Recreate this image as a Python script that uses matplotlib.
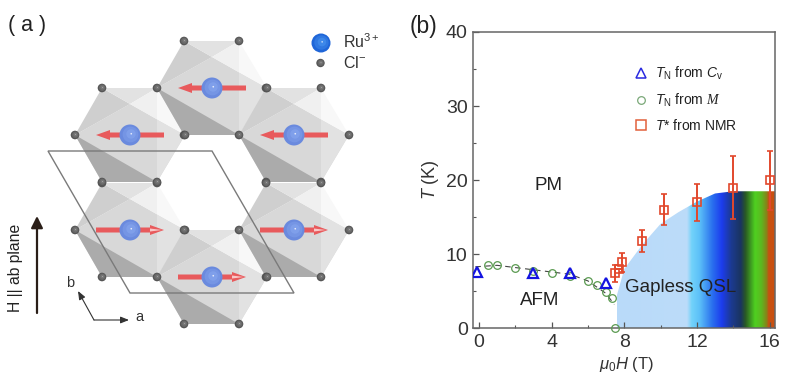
import numpy as np
import matplotlib
matplotlib.use("Agg")
import matplotlib.pyplot as plt
from matplotlib.patches import Polygon, Circle, FancyArrow, PathPatch
from matplotlib.path import Path
from matplotlib.colors import LinearSegmentedColormap
from matplotlib.lines import Line2D
from matplotlib.ticker import MultipleLocator

plt.rcParams['font.family'] = ['Liberation Sans', 'DejaVu Sans']
plt.rcParams['mathtext.fontset'] = 'custom'
plt.rcParams['mathtext.rm'] = 'Liberation Sans'
plt.rcParams['mathtext.it'] = 'Liberation Sans:italic'
plt.rcParams['mathtext.cal'] = 'Liberation Serif:italic'

# Panel (b) data
cv_field = [-0.1, 3.0, 5.0, 7.0]
cv_temp = [7.6, 7.4, 7.4, 6.1]
m_field = [0.5, 1.0, 2.0, 3.0, 4.0, 5.0, 6.0, 6.5, 7.0, 7.3, 7.5]
m_temp = [8.6, 8.6, 8.1, 7.7, 7.5, 7.0, 6.4, 5.8, 4.9, 4.1, 0.0]
guide_field = [-0.2, 1.0, 3.0, 5.0, 6.0, 7.0, 7.45]
guide_temp = [8.3, 8.5, 7.9, 7.3, 6.4, 4.7, 3.2]
nmr_field = [7.5, 7.7, 7.9, 9.0, 10.2, 12.0, 14.0, 16.0]
nmr_temp = [7.4, 8.0, 8.9, 11.8, 16.0, 17.0, 19.0, 20.0]
nmr_err = [1.2, 0.0, 1.3, 1.5, 2.1, 2.5, 4.2, 4.0]
qsl_field = [7.6, 7.6, 8.0, 9.0, 10.0, 11.0, 12.0, 13.0, 14.0, 16.3, 16.3]
qsl_temp = [0.0, 4.5, 8.0, 11.3, 14.1, 15.7, 17.1, 18.2, 18.5, 18.5, 0.0]

# Panel (a) schematic
ru_x = [130, 212, 294, 130, 212, 294]
ru_y = [135, 88, 135, 230, 277, 230]
spin = [-1, -1, -1, 1, 1, 1]
cell_x = [48, 212, 294, 130]
cell_y = [151, 151, 293, 293]

fig = plt.figure(figsize=(8, 3.85), dpi=100)
W, H = 800, 385

# ---------- panel (a) ----------
a = fig.add_axes([0, 0, 0.5, 1])
a.set_xlim(0, 400)
a.set_ylim(385, 0)
a.axis('off')

V = dict(TL=(-28, -47), TR=(27, -47), R=(55, 0), BR=(27, 47), BL=(-28, 47), L=(-55, 0), M=(0, -31),
         N=(27, -15.6))
faces = [
    (['L', 'M', 'R', 'BR', 'BL'], '#d8d8d8'),
    (['N', 'R', 'BR'], '#e2e2e2'),
    (['L', 'TL', 'M'], '#cfcfcf'),
    (['TL', 'TR', 'M'], '#e2e2e2'),
    (['M', 'TR', 'N'], '#f0f0f0'),
    (['N', 'TR', 'R'], '#f8f8f8'),
    (['L', 'BL', 'BR'], '#ababab'),
]
for cx, cy in zip(ru_x, ru_y):
    for names, col in faces:
        pts = [(cx + V[n][0], cy + V[n][1]) for n in names]
        a.add_patch(Polygon(pts, closed=True, fc=col, ec='none', zorder=2))

a.add_patch(Polygon(list(zip(cell_x, cell_y)), closed=True, fc='none', ec='#7a7a7a', lw=1.0, zorder=3))


def ball(ax, x, y, r, col, hi, z=6):
    ax.add_patch(Circle((x, y), r, fc=col, ec='none', zorder=z))
    ax.add_patch(Circle((x + r * 0.05, y - r * 0.05), r * 0.75, fc=hi, ec='none', alpha=0.35, zorder=z))
    ax.add_patch(Circle((x + r * 0.1, y - r * 0.1), r * 0.45, fc=hi, ec='none', alpha=0.45, zorder=z))
    ax.add_patch(Circle((x + r * 0.12, y - r * 0.12), r * 0.08, fc='white', ec='none', alpha=0.8, zorder=z))


cl_pts = set()
for cx, cy in zip(ru_x, ru_y):
    for n in ['TL', 'TR', 'R', 'BR', 'BL', 'L']:
        cl_pts.add((cx + V[n][0], cy + V[n][1]))
for x, y in cl_pts:
    ball(a, x, y, 4.3, '#555555', '#8a8a8a')

for cx, cy, s in zip(ru_x, ru_y, spin):
    a.add_patch(FancyArrow(cx - s * 34, cy, s * 68, 0, width=5, head_width=10, head_length=14,
                           length_includes_head=True, fc='#e85a5c', ec='none', zorder=4))
    if s > 0:
        a.add_patch(Polygon([(cx + 20, cy - 1.5), (cx + 32, cy), (cx + 20, cy + 1.5)],
                            fc='#f8c8c8', ec='none', zorder=5))
    ball(a, cx, cy, 10.5, '#6a8ade', '#8cacf2')

ball(a, 321, 43, 9.5, '#1f66d8', '#4f9cf4')
ball(a, 320.5, 63, 4.2, '#555555', '#888888')
a.text(343, 42, 'Ru$^{3+}$', fontsize=11.5, color='#333333', va='center')
a.text(343, 63, 'Cl$^{-}$', fontsize=11.5, color='#333333', va='center')
a.text(8, 25, '( a )', fontsize=15.5, color='#222222', va='center')
a.text(16, 268, 'H || ab plane', rotation=90, fontsize=11.3, color='#222222', ha='center', va='center')
a.annotate('', xy=(37, 216), xytext=(37, 313),
           arrowprops=dict(arrowstyle='-|>,head_width=0.35,head_length=0.7', color='#2a1e18', lw=1.6,
                           shrinkA=0, shrinkB=0))
for tx, ty in [(129, 320), (78, 291)]:
    a.annotate('', xy=(tx, ty), xytext=(94, 320),
               arrowprops=dict(arrowstyle='-|>,head_width=0.2,head_length=0.5', color='#333333', lw=0.8,
                               shrinkA=0, shrinkB=0))
a.text(70, 283, 'b', fontsize=10.5, color='#333333', ha='center', va='center')
a.text(139, 317, 'a', fontsize=10.5, color='#333333', ha='center', va='center')

# ---------- panel (b) ----------
L, R, T, B = 473.3, 775.0, 32.0, 328.3
ax = fig.add_axes([L / W, (H - B) / H, (R - L) / W, (B - T) / H])

cmap = LinearSegmentedColormap.from_list('qsl', [
    (0.00, '#b9daf9'), (0.44, '#bcdcf9'), (0.47, '#72d2fa'), (0.52, '#5cc0f8'),
    (0.60, '#2a70ee'), (0.66, '#1c3cee'), (0.72, '#1c3a90'), (0.78, '#1a3460'),
    (0.81, '#2a5a24'), (0.87, '#4fd020'), (0.91, '#5cb820'), (0.945, '#8a8018'),
    (0.955, '#c85010'), (1.00, '#c85010')])
img = ax.imshow(np.linspace(0, 1, 512)[None, :], extent=[7.6, 16.3, 0, 18.5], aspect='auto',
                cmap=cmap, vmin=0, vmax=1, zorder=1, interpolation='bilinear')
clip = PathPatch(Path(list(zip(qsl_field, qsl_temp)) + [(qsl_field[0], qsl_temp[0])]),
                 transform=ax.transData, fc='none', ec='none')
ax.add_patch(clip)
img.set_clip_path(clip)

ax.plot(guide_field, guide_temp, color='#444444', lw=0.8, dashes=(5, 4), zorder=2)
ax.plot(m_field, m_temp, ls='none', marker='o', ms=5.5, mfc='none', mec='#5a9a50', mew=0.9,
        zorder=3, clip_on=False)
ax.plot(cv_field, cv_temp, ls='none', marker='^', ms=7.5, mfc='none', mec='#1414e0', mew=1.6, zorder=4)
ax.errorbar(nmr_field, nmr_temp, yerr=nmr_err, ls='none', marker='s', ms=6, mfc='none', mec='#e2482c',
            mew=1.2, ecolor='#e2482c', elinewidth=1.4, capsize=2.5, capthick=1.2, zorder=5)

ax.set_xlim(-0.31, 16.3)
ax.set_ylim(0, 40)
ax.xaxis.set_major_locator(MultipleLocator(4))
ax.xaxis.set_minor_locator(MultipleLocator(2))
ax.yaxis.set_major_locator(MultipleLocator(10))
ax.yaxis.set_minor_locator(MultipleLocator(5))
ax.tick_params(which='major', direction='in', length=4.5, width=0.9, color='#555555',
               labelsize=14, labelcolor='#333333', pad=4)
ax.tick_params(which='minor', direction='in', length=2.5, width=0.8, color='#555555')
for sp in ax.spines.values():
    sp.set_color('#666666')
    sp.set_linewidth(1.1)

ax.text(3.85, 19.3, 'PM', fontsize=13.5, color='#222222', ha='center', va='center')
ax.text(3.35, 3.8, 'AFM', fontsize=13.5, color='#222222', ha='center', va='center')
ax.text(11.1, 5.5, 'Gapless QSL', fontsize=13.5, color='#222222', ha='center', va='center')

fig.text(410 / W, 1 - 26 / H, '(b)', fontsize=16.5, color='#222222', va='center')
fig.text(431 / W, 1 - 180 / H, r'$\mathit{T}$ (K)', rotation=90, fontsize=13, color='#333333',
         ha='center', va='center')
fig.text(627 / W, 1 - 365 / H, r'$\mathit{\mu}_{0}\mathit{H}$ (T)', fontsize=12, color='#333333',
         ha='center', va='center')

handles = [
    Line2D([], [], ls='none', marker='^', ms=7, mfc='none', mec='#2a2ae0', mew=1.1),
    Line2D([], [], ls='none', marker='o', ms=5.5, mfc='none', mec='#7aa878', mew=0.9),
    Line2D([], [], ls='none', marker='s', ms=6.5, mfc='none', mec='#e2603c', mew=1.1),
]
labels = [r'$\mathit{T}_{\rm N}$ from $\mathit{C}_{\rm v}$',
          r'$\mathit{T}_{\rm N}$ from $\mathcal{M}$',
          r'$\mathit{T}$* from NMR']
leg = ax.legend(handles, labels, loc='upper left', bbox_to_anchor=(633 / W, 1 - 65 / H),
                bbox_transform=fig.transFigure, frameon=False, fontsize=10, handlelength=1.2,
                handletextpad=0.4, labelspacing=0.65, borderpad=0, borderaxespad=0, labelcolor='#222222')

fig.savefig('out.png', dpi=100)
